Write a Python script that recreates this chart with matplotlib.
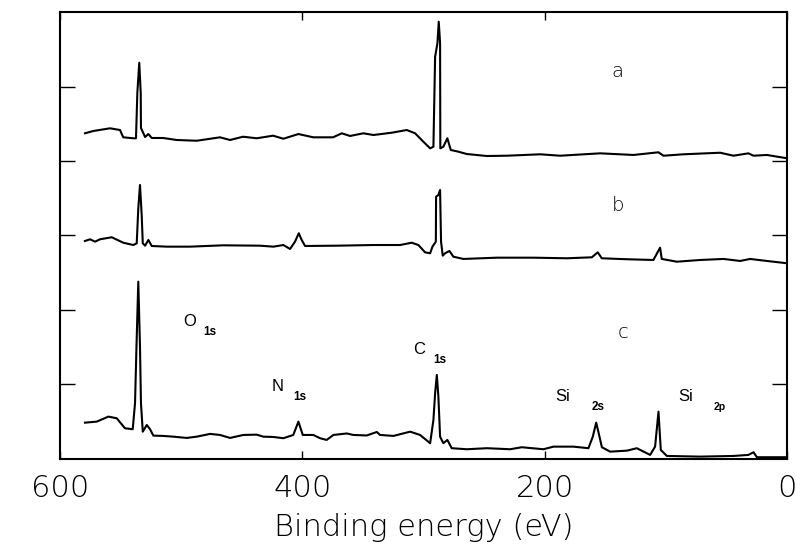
import numpy as np
import matplotlib.pyplot as plt

# XPS survey spectra, binding energy (eV) vs intensity (offset, arb. units)
energy_a = [579.4, 572.5, 558.7, 550.5, 547.8, 539.5, 537.3, 536.2, 534.6, 533.4,
            533.2, 531.3, 529.8, 527.1, 524.3, 515.0, 503.7, 487.2, 468.0, 459.7,
            449.0, 437.7, 424.2, 415.7, 403.3, 391.0, 374.7, 367.5, 360.7, 349.7,
            341.4, 326.2, 313.9, 307.0, 300.2, 294.6, 291.9, 290.5, 288.6, 287.5,
            286.4, 286.2, 283.7, 280.4, 277.6, 271.3, 264.4, 247.8, 231.3, 203.8,
            187.3, 154.3, 126.8, 106.2, 102.1, 85.6, 55.3, 44.3, 32.0, 27.8,
            16.8, 0.0]
counts_a = [4.372, 4.403, 4.439, 4.416, 4.318, 4.305, 4.305, 4.913, 5.319, 4.913,
            4.443, 4.376, 4.322, 4.362, 4.309, 4.309, 4.282, 4.272, 4.318, 4.282,
            4.326, 4.305, 4.340, 4.299, 4.362, 4.318, 4.318, 4.372, 4.336, 4.372,
            4.349, 4.380, 4.416, 4.372, 4.259, 4.170, 4.192, 5.400, 5.580, 5.870,
            5.584, 4.170, 4.192, 4.305, 4.148, 4.125, 4.094, 4.067, 4.071, 4.090,
            4.071, 4.103, 4.081, 4.117, 4.071, 4.090, 4.111, 4.071, 4.103, 4.071,
            4.081, 4.036]

energy_b = [579.4, 575.2, 571.1, 567.0, 557.3, 547.8, 539.5, 536.7, 535.4, 534.0,
            532.6, 531.7, 529.8, 527.1, 524.3, 512.0, 492.7, 465.2, 434.9, 423.9,
            415.7, 410.2, 406.1, 403.0, 400.6, 397.8, 371.7, 341.4, 319.4, 309.8,
            304.3, 298.8, 294.6, 292.7, 289.9, 289.7, 287.8, 286.4, 285.6, 284.2,
            282.3, 278.7, 275.4, 267.2, 239.6, 209.4, 181.8, 161.2, 156.3, 153.0,
            132.3, 110.4, 104.9, 103.5, 91.1, 71.8, 52.6, 38.8, 30.6, 16.8,
            0.0]
counts_b = [2.926, 2.949, 2.917, 2.949, 2.976, 2.903, 2.872, 2.895, 3.365, 3.678,
            3.275, 2.895, 2.863, 2.940, 2.859, 2.850, 2.850, 2.868, 2.863, 2.850,
            2.872, 2.819, 2.917, 3.030, 2.940, 2.859, 2.863, 2.872, 2.872, 2.903,
            2.872, 2.774, 2.761, 2.850, 2.917, 3.521, 3.544, 3.611, 2.917, 2.729,
            2.761, 2.792, 2.715, 2.685, 2.702, 2.702, 2.694, 2.707, 2.774, 2.694,
            2.681, 2.671, 2.836, 2.685, 2.648, 2.671, 2.685, 2.658, 2.685, 2.658,
            2.627]

energy_c = [579.4, 569.7, 560.1, 553.2, 546.4, 540.0, 538.1, 536.9, 535.4, 534.0,
            533.2, 531.7, 528.4, 525.7, 523.0, 515.0, 506.5, 495.5, 487.2, 476.2,
            468.0, 459.7, 448.7, 437.7, 432.2, 424.0, 415.7, 407.5, 403.3, 399.7,
            391.0, 385.4, 380.0, 374.4, 363.4, 358.0, 346.9, 338.6, 335.9, 324.9,
            311.1, 302.9, 294.6, 291.9, 290.5, 289.1, 287.8, 286.4, 283.7, 280.4,
            276.8, 264.4, 247.8, 228.6, 219.0, 201.1, 192.9, 176.4, 164.0, 160.4,
            157.6, 155.2, 152.9, 146.1, 132.3, 124.1, 113.1, 109.0, 106.2, 104.3,
            99.3, 71.8, 44.3, 32.0, 27.8, 25.0, 0.0]
counts_c = [0.487, 0.501, 0.568, 0.546, 0.412, 0.399, 0.748, 1.507, 2.380, 1.507,
            0.748, 0.366, 0.456, 0.399, 0.313, 0.309, 0.299, 0.282, 0.299, 0.336,
            0.322, 0.282, 0.322, 0.326, 0.299, 0.295, 0.278, 0.322, 0.501, 0.322,
            0.322, 0.278, 0.255, 0.322, 0.342, 0.322, 0.315, 0.362, 0.322, 0.309,
            0.366, 0.322, 0.211, 0.523, 0.882, 1.128, 0.836, 0.299, 0.211, 0.255,
            0.144, 0.130, 0.144, 0.130, 0.157, 0.130, 0.165, 0.165, 0.144, 0.299,
            0.487, 0.322, 0.157, 0.098, 0.111, 0.144, 0.054, 0.165, 0.635, 0.121,
            0.040, 0.031, 0.040, 0.054, 0.090, 0.023, 0.023]

# sample labels and peak assignments (text, energy, intensity)
samples = [("a", 140.3, 5.195), ("b", 139.5, 3.409), ("c", 135.3, 1.691)]
elements = [("O", 492.7, 1.839), ("N", 420.1, 0.966), ("C", 303.7, 1.463),
            ("Si", 184.9, 0.832), ("Si", 83.4, 0.832)]
orbitals = [("1s", 476.2, 1.705, 8.5), ("1s", 401.9, 0.832, 8.5), ("1s", 286.4, 1.329, 8.5),
            ("2s", 156.0, 0.698, 8.5), ("2p", 55.3, 0.698, 7.5)]

xticks = [600, 400, 200, 0]
yticks = [1, 2, 3, 4, 5]

fig = plt.figure(figsize=(8, 5.47), dpi=100)
ax = fig.add_axes([0.075, 0.161, 0.909, 0.817])

for e, c in [(energy_a, counts_a), (energy_b, counts_b), (energy_c, counts_c)]:
    ax.plot(e, c, color="black", lw=1.5)

ax.set_xlim(600, 0)
ax.set_ylim(0, 6)
ax.set_xticks(xticks)
ax.set_xticklabels([str(t) for t in xticks], fontsize=22, fontweight="light")
ax.set_yticks(yticks)
ax.set_yticklabels([])
ax.tick_params(axis="x", direction="in", length=6, width=1, top=True, pad=11)
ax.tick_params(axis="y", direction="in", length=11, width=1, right=True)
for s in ax.spines.values():
    s.set_linewidth(1.5)

ax.set_xlabel("Binding energy (eV)", fontsize=22, fontweight="light", labelpad=7)

for t, x, y in samples:
    ax.text(x, y, t, fontsize=14, fontweight="light", ha="center", va="center")
for t, x, y in elements:
    ax.text(x, y, t, fontsize=12, family="Liberation Sans", ha="center", va="center")
for t, x, y, fs in orbitals:
    ax.text(x, y, t, fontsize=fs, family="Liberation Sans", fontweight="bold",
            ha="center", va="center")

plt.savefig("out.png", dpi=100)
